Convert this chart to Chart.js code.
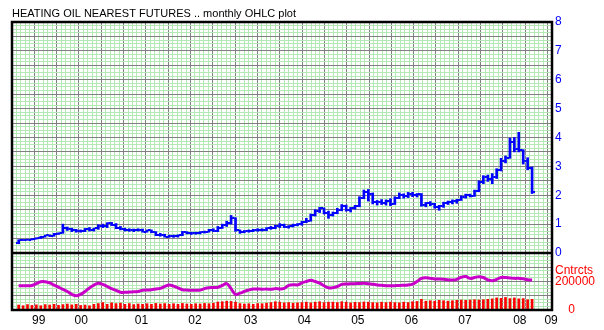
<!DOCTYPE html>
<html><head><meta charset="utf-8">
<script src="https://cdn.jsdelivr.net/npm/chart.js@4"></script>
<style>html,body{margin:0;padding:0;background:#fff;}#c{display:block;}</style>
</head><body>
<canvas id="c" width="604" height="330"></canvas>
<script>
const TITLE = 'HEATING OIL NEAREST FUTURES .. monthly OHLC plot';
// months since Jan 1999; first bar is Feb 1999
const FIRST_MONTH = 1;
const opens = [.33,.45,.46,.46,.50,.52,.57,.61,.60,.67,.69,
 .85,.82,.78,.76,.76,.82,.80,.85,.95,.92,1.03,.98,
 .88,.82,.80,.79,.80,.81,.74,.78,.72,.64,.62,.57,
 .59,.58,.62,.72,.68,.70,.69,.72,.74,.80,.76,.88,
 .97,1.05,1.20,.78,.72,.76,.77,.78,.80,.79,.86,.88,
 .93,.98,.90,.92,.98,1.00,1.08,1.12,1.30,1.45,1.55,1.40,
 1.30,1.40,1.50,1.62,1.50,1.55,1.62,1.90,2.10,2.05,1.75,1.78,
 1.72,1.80,1.70,1.92,2.02,1.98,2.05,2.00,2.04,1.66,1.72,1.68,
 1.60,1.62,1.72,1.76,1.80,1.84,1.94,2.00,1.98,2.14,2.45,2.62,
 2.58,2.62,2.88,3.20,3.30,3.85,3.60,3.55,3.20,2.95];
const highs = [.46,.47,.48,.50,.53,.58,.62,.63,.68,.70,1.00,
 .90,.86,.82,.80,.85,.88,.86,.98,1.00,1.05,1.06,1.02,
 .92,.86,.84,.83,.84,.83,.80,.80,.74,.68,.65,.62,
 .62,.63,.75,.74,.72,.72,.74,.76,.82,.84,.92,1.00,
 1.10,1.30,1.22,.80,.78,.80,.82,.84,.84,.88,.92,.96,
 1.02,1.00,.95,1.00,1.02,1.10,1.20,1.35,1.50,1.58,1.56,1.45,
 1.42,1.55,1.68,1.66,1.58,1.65,1.95,2.18,2.20,2.08,1.82,1.85,
 1.84,1.88,1.95,2.08,2.05,2.10,2.10,2.06,2.06,1.75,1.78,1.72,
 1.65,1.76,1.80,1.84,1.86,1.98,2.04,2.04,2.18,2.50,2.68,2.70,
 2.75,2.92,3.28,3.36,3.98,4.00,4.18,3.58,3.30,2.98];
const lows = [.32,.43,.44,.45,.48,.50,.55,.57,.58,.64,.68,
 .78,.74,.72,.72,.74,.76,.76,.82,.88,.88,.95,.84,
 .80,.76,.75,.74,.76,.72,.72,.70,.60,.58,.55,.54,
 .54,.55,.60,.66,.64,.65,.66,.69,.72,.74,.74,.85,
 .92,1.00,.75,.68,.70,.72,.74,.75,.76,.77,.82,.84,
 .88,.88,.86,.90,.94,.96,1.05,1.10,1.28,1.40,1.35,1.20,
 1.28,1.36,1.46,1.45,1.42,1.52,1.60,1.88,1.80,1.70,1.66,1.68,
 1.66,1.64,1.68,1.88,1.90,1.92,1.95,1.94,1.62,1.60,1.64,1.55,
 1.48,1.58,1.68,1.70,1.72,1.82,1.90,1.94,1.96,2.12,2.40,2.48,
 2.40,2.58,2.84,3.12,3.28,3.50,3.50,3.08,2.88,2.06];
const closes = [.45,.46,.46,.50,.52,.57,.61,.60,.67,.69,.85,
 .82,.78,.76,.77,.82,.80,.85,.95,.92,1.03,.98,.88,
 .82,.80,.79,.80,.81,.74,.78,.72,.64,.62,.57,.59,
 .58,.62,.72,.68,.70,.69,.72,.74,.80,.76,.88,.97,
 1.05,1.20,.78,.72,.76,.77,.78,.80,.79,.86,.88,.93,
 .98,.90,.92,.98,1.00,1.08,1.12,1.30,1.45,1.55,1.40,1.30,
 1.40,1.50,1.62,1.50,1.55,1.62,1.90,2.10,2.05,1.75,1.78,1.72,
 1.80,1.70,1.92,2.02,1.98,2.05,2.00,2.04,1.66,1.72,1.68,1.60,
 1.62,1.72,1.76,1.80,1.84,1.94,2.00,1.98,2.14,2.45,2.62,2.58,
 2.62,2.88,3.20,3.30,3.85,3.60,3.55,3.20,2.95,2.12];
const volume = [35000,30000,38000,32000,36000,30000,38000,35000,40000,33000,38000,
 42000,36000,40000,32000,35000,30000,40000,45000,52000,40000,50000,45000,
 48000,40000,45000,38000,42000,40000,44000,40000,46000,42000,45000,40000,
 44000,40000,46000,42000,40000,44000,42000,46000,44000,48000,56000,58000,
 62000,60000,55000,45000,42000,44000,40000,45000,44000,48000,52000,58000,
 55000,50000,52000,48000,50000,52000,55000,50000,55000,58000,52000,55000,
 55000,52000,58000,55000,50000,54000,52000,56000,55000,52000,50000,55000,
 52000,55000,52000,50000,55000,52000,58000,60000,75000,62000,65000,62000,
 68000,65000,62000,65000,68000,70000,68000,70000,72000,70000,72000,75000,
 78000,85000,82000,88000,80000,85000,78000,80000,72000,75000];
const openInterest = [170000,170000,171000,172000,185000,198000,198000,190000,175000,160000,145000,
 130000,110000,100000,110000,130000,155000,175000,187000,180000,165000,150000,138000,
 125000,124000,126000,128000,130000,138000,140000,142000,148000,152000,165000,175000,
 168000,155000,142000,140000,138000,138000,140000,150000,156000,158000,160000,172000,
 185000,150000,110000,118000,130000,140000,147000,148000,146000,147000,146000,150000,
 148000,152000,172000,178000,176000,190000,200000,208000,200000,188000,170000,156000,
 157000,165000,180000,182000,184000,185000,186000,187000,185000,180000,176000,173000,
 171000,170000,171000,172000,174000,176000,182000,200000,222000,226000,222000,218000,
 217000,216000,212000,210000,215000,230000,235000,222000,228000,234000,228000,212000,
 206000,215000,228000,228000,225000,222000,222000,220000,212000,210000];
const yearLabels = ['99','00','01','02','03','04','05','06','07','08','09'];
const yearLabelMonths = [6,15.5,29,41,53.5,65.5,77.5,89.5,101.5,113.8,120.8];
const priceTicks = ['0','1','2','3','4','5','6','7','8'];

const months = opens.map((_, i) => FIRST_MONTH + i);
const FONT = {family: 'Liberation Sans, Arial, sans-serif', size: 12};
const MAJOR = '#808080', MINOR = '#b4e8b4';

function tickImg(side) {
  const c = document.createElement('canvas');
  c.width = 6; c.height = 2;
  const g = c.getContext('2d');
  g.fillStyle = '#0000ff';
  g.fillRect(side === 'open' ? 0 : 4, 0, 2, 2);
  return c;
}

const framePlugin = {
  id: 'frame',
  beforeDraw(chart) {
    const c = chart.ctx;
    c.save();
    c.fillStyle = '#fff';
    c.fillRect(0, 0, chart.width, chart.height);
    c.restore();
  },
  afterDraw(chart) {
    const c = chart.ctx, a = chart.chartArea;
    c.save();
    c.strokeStyle = '#000';
    c.lineWidth = 2.5;
    c.strokeRect(a.left, a.top, a.right - a.left, a.bottom - a.top);
    const yb = chart.scales.y.bottom;
    c.beginPath(); c.moveTo(a.left, yb); c.lineTo(a.right, yb); c.stroke();
    c.fillStyle = '#000';
    c.font = '11px ' + FONT.family;
    c.textBaseline = 'middle';
    c.fillText(TITLE, a.left, 14);
    c.restore();
  }
};

new Chart(document.getElementById('c'), {
  type: 'scatter',
  data: {
    datasets: [
      {type: 'bar', label: 'Volume', yAxisID: 'yv', xAxisID: 'x',
       data: months.map((m, i) => ({x: m, y: volume[i]})),
       backgroundColor: '#ff0000', barThickness: 2, grouped: false, order: 4},
      {type: 'line', label: 'Open interest', yAxisID: 'yv', xAxisID: 'x',
       data: months.map((m, i) => ({x: m, y: openInterest[i]})),
       borderColor: '#c800c8', borderWidth: 3, pointRadius: 0, tension: 0.4, fill: false, order: 3},
      {type: 'bar', label: 'High-Low', yAxisID: 'y', xAxisID: 'x',
       data: months.map((m, i) => ({x: m, y: [lows[i], highs[i]]})),
       backgroundColor: '#0000ff', barThickness: 2, grouped: false, order: 2},
      {type: 'scatter', label: 'Open', yAxisID: 'y', xAxisID: 'x',
       data: months.map((m, i) => ({x: m, y: opens[i]})),
       pointStyle: tickImg('open'), pointRadius: 2, order: 1},
      {type: 'scatter', label: 'Close', yAxisID: 'y', xAxisID: 'x',
       data: months.map((m, i) => ({x: m, y: closes[i]})),
       pointStyle: tickImg('close'), pointRadius: 2, order: 0}
    ]
  },
  options: {
    responsive: false, animation: false, devicePixelRatio: 1,
    layout: {padding: {top: 22, left: 12, right: 0, bottom: 0}},
    plugins: {legend: {display: false}, tooltip: {enabled: false}},
    scales: {
      x: {type: 'linear', position: 'bottom', min: 0, max: 121,
          afterBuildTicks: s => { s.ticks = Array.from({length: 121}, (_, k) => ({value: k * 121 / 120})); },
          ticks: {display: false, autoSkip: false},
          grid: {color: c => (c.index % 5 === 0 ? MAJOR : MINOR), lineWidth: 1, drawTicks: false},
          border: {display: false},
          afterFit: s => { s.height = 0; }},
      x2: {type: 'linear', position: 'bottom', min: 0, max: 121,
           afterBuildTicks: s => { s.ticks = yearLabelMonths.map(v => ({value: v})); },
           ticks: {autoSkip: false, maxRotation: 0, padding: 3, color: '#000', font: FONT,
                   callback: (v, i) => yearLabels[i]},
           grid: {display: false, drawTicks: false}, border: {display: false},
           afterFit: s => { s.height = 20; }},
      y: {type: 'linear', position: 'right', stack: 'v', stackWeight: 231, min: 0, max: 8,
          afterBuildTicks: s => { s.ticks = Array.from({length: 65}, (_, k) => ({value: k * 0.125})); },
          ticks: {autoSkip: false, padding: 3, color: '#0000ff', font: FONT,
                  callback: v => (Number.isInteger(v) ? priceTicks[v] : '')},
          grid: {color: c => (c.tick.value % 0.5 === 0 ? MAJOR : MINOR), lineWidth: 1, drawTicks: false},
          border: {display: false},
          afterFit: s => { s.width = 52; }},
      yv: {type: 'linear', position: 'right', stack: 'v', stackWeight: 57, min: 0, max: 400000,
           afterBuildTicks: s => { s.ticks = Array.from({length: 17}, (_, k) => ({value: k * 25000})); },
           ticks: {autoSkip: false, padding: 3, color: '#ff0000', font: FONT,
                   callback: v => (v === 200000 ? '200000' : v === 275000 ? 'Cntrcts' : v === 0 ? '    0' : '')},
           grid: {color: c => (c.tick.value % 100000 === 0 ? MAJOR : MINOR), lineWidth: 1, drawTicks: false},
           border: {display: false},
           afterFit: s => { s.width = 52; }}
    }
  },
  plugins: [framePlugin]
});
</script>
</body></html>
